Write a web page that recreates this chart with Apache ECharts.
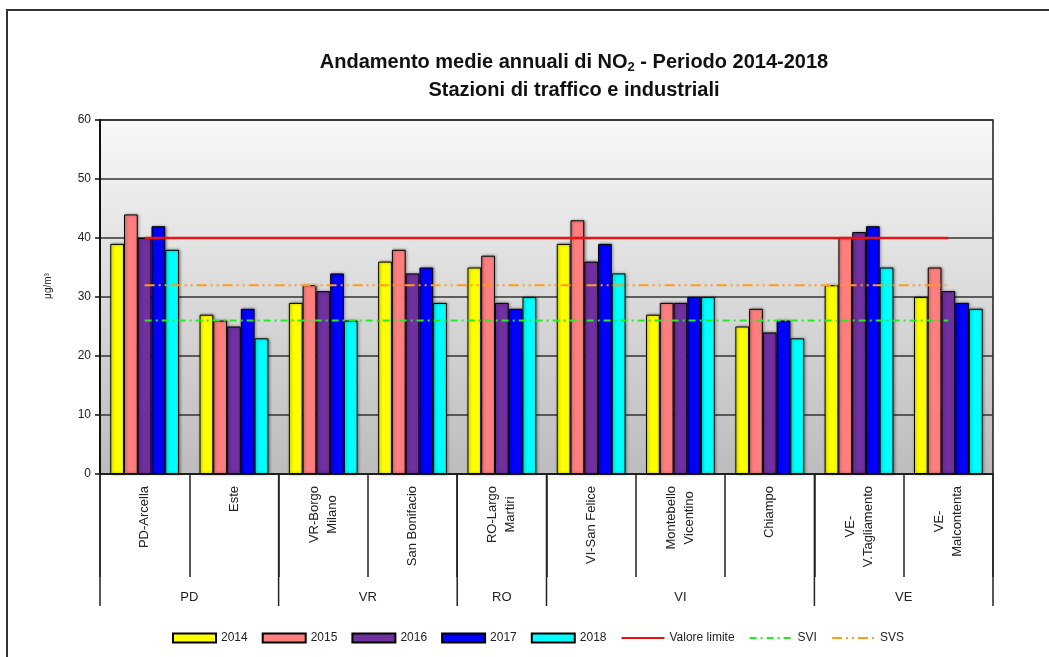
<!DOCTYPE html>
<html>
<head>
<meta charset="utf-8">
<title>Andamento medie annuali di NO2 - Periodo 2014-2018</title>
<script src="https://cdn.jsdelivr.net/npm/echarts@6/dist/echarts.min.js"></script>
<style>
  html, body { margin: 0; padding: 0; background: #ffffff; }
  #chart { width: 1049px; height: 657px; }
</style>
</head>
<body>
<div id="chart"></div>
<script>
// Stazioni (categorie dell'asse x)
const stazioni = [
  'PD-Arcella', 'Este', 'VR-Borgo\nMilano', 'San Bonifacio', 'RO-Largo\nMartiri',
  'VI-San Felice', 'Montebello\nVicentino', 'Chiampo', 'VE-\nV.Tagliamento', 'VE-\nMalcontenta'
];

// Province e numero di stazioni per ciascuna
const province = ['PD', 'VR', 'RO', 'VI', 'VE'];
const stazioniPerProvincia = [2, 2, 1, 3, 2];

// Medie annuali NO2 (µg/m³)
const anno2014 = [39, 27, 29, 36, 35, 39, 27, 25, 32, 30];
const anno2015 = [44, 26, 32, 38, 37, 43, 29, 28, 40, 35];
const anno2016 = [40, 25, 31, 34, 29, 36, 29, 24, 41, 31];
const anno2017 = [42, 28, 34, 35, 28, 39, 30, 26, 42, 29];
const anno2018 = [38, 23, 26, 29, 30, 34, 30, 23, 35, 28];

// Soglie di riferimento
const valoreLimite = [40, 40, 40, 40, 40, 40, 40, 40, 40, 40];
const svi = [26, 26, 26, 26, 26, 26, 26, 26, 26, 26];
const svs = [32, 32, 32, 32, 32, 32, 32, 32, 32, 32];

// Asse y
const yMin = 0, yMax = 60, yStep = 10;

const FONT = '"Liberation Sans", Arial, sans-serif';
const TEXT = '#222222';

const chart = echarts.init(document.getElementById('chart'), null, { renderer: 'canvas' });

function barSeries(name, data, color) {
  return {
    name: name,
    type: 'bar',
    data: data,
    barGap: '0%',
    barCategoryGap: '23%',
    itemStyle: {
      color: color,
      borderColor: '#000000',
      borderWidth: 1,
      shadowBlur: 3,
      shadowOffsetX: 1,
      shadowColor: 'rgba(0,0,0,0.45)'
    },
    z: 2
  };
}

function lineSeries(name, data, color, width, dash) {
  return {
    name: name,
    type: 'line',
    data: data,
    symbol: 'none',
    silent: true,
    lineStyle: { color: color, width: width, type: dash },
    itemStyle: { color: color },
    z: 5
  };
}

// Separatori e nomi delle province sotto l'asse delle stazioni
const provinceData = [];
let start = 0;
province.forEach(function (p, i) {
  provinceData.push([start, 0, stazioniPerProvincia[i]]);
  start += stazioniPerProvincia[i];
});

function renderProvince(params, api) {
  const idx = params.dataIndex;
  const c = api.coord([api.value(0), 0]);
  const band = api.size([1, 0])[0];
  const span = api.value(2);
  const x0 = c[0] - band / 2;
  const x1 = x0 + span * band;
  const y0 = c[1];
  const children = [
    { type: 'line', shape: { x1: x0, y1: y0, x2: x0, y2: y0 + 132 },
      style: { stroke: '#222222', lineWidth: 1.5 } },
    { type: 'text', style: {
        text: province[idx], x: (x0 + x1) / 2, y: y0 + 123,
        align: 'center', verticalAlign: 'middle',
        fontSize: 13, fontFamily: FONT, fill: TEXT } }
  ];
  if (idx === province.length - 1) {
    children.push({ type: 'line', shape: { x1: x1, y1: y0, x2: x1, y2: y0 + 132 },
      style: { stroke: '#222222', lineWidth: 1.5 } });
  }
  return { type: 'group', children: children };
}

const option = {
  backgroundColor: '#ffffff',
  animation: false,
  textStyle: { fontFamily: FONT },
  title: {
    text: 'Andamento medie annuali di NO{s|2} - Periodo 2014-2018\nStazioni di traffico e industriali',
    left: 569,
    textAlign: 'center',
    top: 43,
    textStyle: {
      fontFamily: FONT,
      fontSize: 20,
      fontWeight: 'bold',
      color: '#111111',
      lineHeight: 28,
      rich: {
        s: { fontFamily: FONT, fontSize: 13, fontWeight: 'bold', color: '#111111',
             padding: [10, 0, 0, 0], lineHeight: 28 }
      }
    }
  },
  legend: {
    left: 167,
    top: 627,
    itemWidth: 43,
    itemHeight: 9,
    itemGap: 14,
    textStyle: { fontFamily: FONT, fontSize: 12, color: TEXT },
    data: [
      { name: '2014', icon: 'rect' },
      { name: '2015', icon: 'rect' },
      { name: '2016', icon: 'rect' },
      { name: '2017', icon: 'rect' },
      { name: '2018', icon: 'rect' },
      { name: 'Valore limite', itemStyle: { opacity: 0 } },
      { name: 'SVI', itemStyle: { opacity: 0 } },
      { name: 'SVS', itemStyle: { opacity: 0 } }
    ]
  },
  grid: {
    left: 100,
    right: 56,
    top: 120,
    bottom: 183,
    show: true,
    backgroundColor: new echarts.graphic.LinearGradient(0, 0, 0, 1, [
      { offset: 0, color: '#f8f8f8' },
      { offset: 1, color: '#bcbcbc' }
    ]),
    borderColor: '#1a1a1a',
    borderWidth: 1.5
  },
  xAxis: {
    type: 'category',
    data: stazioni,
    boundaryGap: true,
    axisLine: { lineStyle: { color: '#1a1a1a', width: 1.5 } },
    axisTick: { show: true, length: 103, lineStyle: { color: '#222222', width: 1.5 } },
    axisLabel: {
      interval: 0,
      rotate: 90,
      margin: 12,
      fontSize: 13,
      lineHeight: 18,
      color: TEXT,
      formatter: function (v) {
        return v.split('\n').map(function (s) { return '{c|' + s + '}'; }).join('\n');
      },
      rich: { c: { align: 'center', fontSize: 13, lineHeight: 18, color: TEXT, fontFamily: FONT } }
    }
  },
  yAxis: {
    type: 'value',
    min: yMin,
    max: yMax,
    interval: yStep,
    name: 'μg/m³',
    nameLocation: 'middle',
    nameGap: 47,
    nameRotate: 90,
    nameTextStyle: { fontFamily: FONT, fontSize: 10, color: TEXT, padding: [0, 0, 0, 22] },
    axisLine: { show: true, lineStyle: { color: '#111111', width: 2 } },
    axisTick: { show: true, length: 5, lineStyle: { color: '#111111', width: 1.5 } },
    axisLabel: { fontSize: 12, color: TEXT, margin: 9, fontFamily: FONT },
    splitLine: { show: true, lineStyle: { color: '#333333', width: 1.5 } }
  },
  graphic: [
    {
      type: 'polyline',
      shape: { points: [[7, 657], [7, 10], [1049, 10]] },
      style: { stroke: '#333333', lineWidth: 2, fill: null },
      silent: true
    }
  ],
  series: [
    barSeries('2014', anno2014, '#ffff00'),
    barSeries('2015', anno2015, '#ff7f7f'),
    barSeries('2016', anno2016, '#7030a0'),
    barSeries('2017', anno2017, '#0000ff'),
    barSeries('2018', anno2018, '#00ffff'),
    lineSeries('Valore limite', valoreLimite, '#ee1111', 2.5, 'solid'),
    lineSeries('SVI', svi, '#22ee22', 2, [7, 4, 2, 4]),
    lineSeries('SVS', svs, '#ff9c1a', 2, [10, 4, 2, 4, 2, 4]),
    {
      type: 'custom',
      name: 'province',
      data: provinceData,
      encode: { x: 0, y: 1 },
      renderItem: renderProvince,
      clip: false,
      silent: true,
      z: 3
    }
  ]
};

chart.setOption(option);
</script>
</body>
</html>
